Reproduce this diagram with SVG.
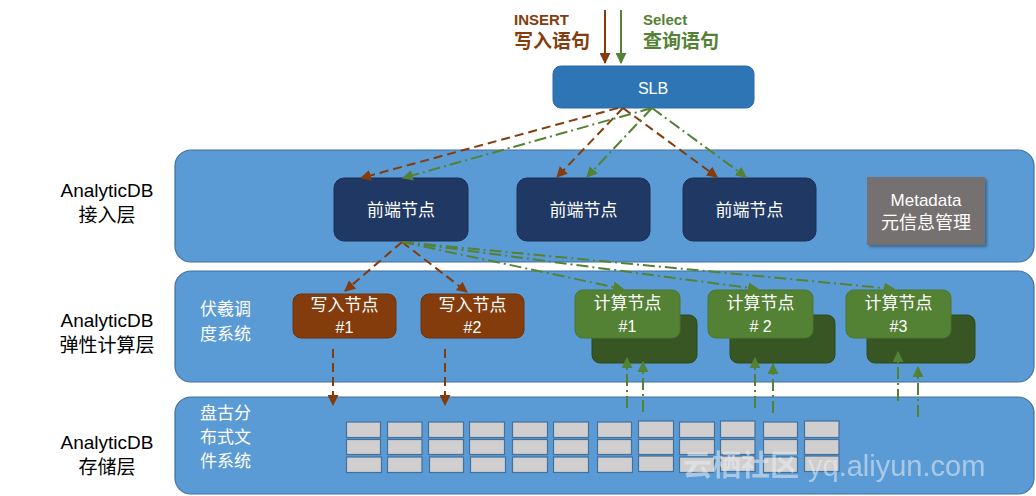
<svg xmlns="http://www.w3.org/2000/svg" width="1036" height="496" viewBox="0 0 1036 496">
<defs>
<style>
.layer{fill:#5b9bd5;stroke:#41719c;stroke-width:1.2}
.front{fill:#203864;stroke:#1b2f55;stroke-width:1}
.write{fill:#843c0c;stroke:#6e320a;stroke-width:1}
.compF{fill:#548235;stroke:#4a7530;stroke-width:1}
.compB{fill:#375623;stroke:#2e4a1d;stroke-width:1}
.cell{fill:#d0cece;stroke:#41719c;stroke-width:1.2}
.cjk{font-family:"Noto Sans CJK SC","Liberation Sans",sans-serif}
.lat{font-family:"Liberation Sans","Noto Sans CJK SC",sans-serif}
.wt{fill:#ffffff;text-anchor:middle}
.lbl{fill:#000000;text-anchor:middle;font-size:19px}
.sub{fill:#ffffff;font-size:17px}
.br{stroke:#843c0c;stroke-width:2;fill:none}
.gr{stroke:#548235;stroke-width:2;fill:none}
.dash{stroke-dasharray:9 5}
.dd{stroke-dasharray:12 4 2 4}
</style>
<marker id="ab" viewBox="0 0 10 10" refX="9" refY="5" markerWidth="5.5" markerHeight="5.5" orient="auto" markerUnits="strokeWidth">
<path d="M0,0 L10,5 L0,10 z" fill="#843c0c"/>
</marker>
<marker id="ag" viewBox="0 0 10 10" refX="9" refY="5" markerWidth="5.5" markerHeight="5.5" orient="auto" markerUnits="strokeWidth">
<path d="M0,0 L10,5 L0,10 z" fill="#548235"/>
</marker>
<filter id="sh" x="-10%" y="-10%" width="130%" height="130%">
<feDropShadow dx="2" dy="2" stdDeviation="1.5" flood-color="#000" flood-opacity="0.35"/>
</filter>
</defs>

<g id="layer-access">
<rect class="layer" x="175" y="150" width="859" height="112" rx="16"/>
<text class="lat lbl" x="107" y="197">AnalyticDB</text>
<text class="cjk lbl" x="107" y="222">接入层</text>
</g>
<g id="layer-compute">
<rect class="layer" x="175" y="271" width="859" height="111" rx="16"/>
<text class="lat lbl" x="107" y="327">AnalyticDB</text>
<text class="cjk lbl" x="107" y="352">弹性计算层</text>
<text class="cjk sub" x="200" y="315">伏羲调</text>
<text class="cjk sub" x="200" y="340">度系统</text>
</g>
<g id="layer-storage">
<rect class="layer" x="175" y="397" width="859" height="97" rx="16"/>
<text class="lat lbl" x="107" y="449">AnalyticDB</text>
<text class="cjk lbl" x="107" y="474">存储层</text>
<text class="cjk sub" x="200" y="419">盘古分</text>
<text class="cjk sub" x="200" y="443">布式文</text>
<text class="cjk sub" x="200" y="467">件系统</text>
</g>

<g id="storage-grid">
<rect class="cell" x="346.5" y="422" width="34" height="15.5"/>
<rect class="cell" x="387.5" y="422" width="34.5" height="15.5"/>
<rect class="cell" x="428.5" y="422" width="35" height="15.5"/>
<rect class="cell" x="469.5" y="422" width="35" height="15.5"/>
<rect class="cell" x="512.5" y="422" width="35" height="15.5"/>
<rect class="cell" x="553.5" y="422" width="35" height="15.5"/>
<rect class="cell" x="597.5" y="422" width="34" height="15.5"/>
<rect class="cell" x="638.5" y="421" width="35" height="16.5"/>
<rect class="cell" x="679.5" y="422" width="35" height="15.5"/>
<rect class="cell" x="720.5" y="421" width="34.5" height="16.5"/>
<rect class="cell" x="763.5" y="422" width="34" height="15.5"/>
<rect class="cell" x="804.5" y="421" width="34.5" height="16.5"/>
<rect class="cell" x="346.5" y="439.5" width="34" height="15"/>
<rect class="cell" x="387.5" y="439.5" width="34.5" height="15"/>
<rect class="cell" x="428.5" y="439.5" width="35" height="15"/>
<rect class="cell" x="469.5" y="439.5" width="35" height="15"/>
<rect class="cell" x="512.5" y="439.5" width="35" height="15"/>
<rect class="cell" x="553.5" y="439.5" width="35" height="15"/>
<rect class="cell" x="597.5" y="439.5" width="34" height="15"/>
<rect class="cell" x="638.5" y="439.5" width="35" height="15"/>
<rect class="cell" x="679.5" y="439.5" width="35" height="15"/>
<rect class="cell" x="720.5" y="439.5" width="34.5" height="15"/>
<rect class="cell" x="763.5" y="439.5" width="34" height="15"/>
<rect class="cell" x="804.5" y="439.5" width="34.5" height="15"/>
<rect class="cell" x="346.5" y="457" width="35" height="15.5"/>
<rect class="cell" x="387.5" y="457" width="34.5" height="15.5"/>
<rect class="cell" x="429.5" y="457" width="34" height="15.5"/>
<rect class="cell" x="470.5" y="457" width="35" height="15.5"/>
<rect class="cell" x="512.5" y="457" width="35" height="15.5"/>
<rect class="cell" x="553.5" y="457" width="35" height="15.5"/>
<rect class="cell" x="597.5" y="457" width="35" height="15.5"/>
<rect class="cell" x="638.5" y="456" width="35" height="15.5"/>
<rect class="cell" x="679.5" y="457" width="35" height="15.5"/>
<rect class="cell" x="720.5" y="456" width="34.5" height="15.5"/>
<rect class="cell" x="763.5" y="457" width="34" height="15.5"/>
<rect class="cell" x="804.5" y="456" width="34.5" height="15.5"/>
</g>

<g id="slb">
<rect x="553" y="66" width="201" height="42" rx="8" fill="#2e75b6" stroke="#2a6aa6" stroke-width="1"/>
<text class="lat wt" x="653" y="94" font-size="16">SLB</text>
</g>

<g id="input-labels">
<text class="lat" x="514" y="25" font-size="15" font-weight="bold" fill="#843c0c">INSERT</text>
<text class="cjk" x="514" y="48" font-size="19" font-weight="bold" fill="#843c0c">写入语句</text>
<text class="lat" x="643" y="25" font-size="15" font-weight="bold" fill="#548235">Select</text>
<text class="cjk" x="643" y="48" font-size="19" font-weight="bold" fill="#548235">查询语句</text>
</g>

<g id="front1">
<rect class="front" x="334" y="178" width="134" height="63" rx="10"/>
<text class="cjk wt" x="401" y="216" font-size="17">前端节点</text>
</g>
<g id="front2">
<rect class="front" x="517" y="178" width="133" height="63" rx="10"/>
<text class="cjk wt" x="583.5" y="216" font-size="17">前端节点</text>
</g>
<g id="front3">
<rect class="front" x="683" y="178" width="133" height="63" rx="10"/>
<text class="cjk wt" x="749.5" y="216" font-size="17">前端节点</text>
</g>
<g id="metadata">
<rect x="867" y="177" width="118" height="68" fill="#767171" filter="url(#sh)"/>
<text class="lat wt" x="926" y="206" font-size="17">Metadata</text>
<text class="cjk wt" x="926" y="229" font-size="18">元信息管理</text>
</g>

<g id="write1">
<rect class="write" x="293" y="294" width="103" height="44" rx="8"/>
<text class="cjk wt" x="344.5" y="311" font-size="17">写入节点</text>
<text class="lat wt" x="344.5" y="333" font-size="16">#1</text>
</g>
<g id="write2">
<rect class="write" x="421" y="294" width="103" height="44" rx="8"/>
<text class="cjk wt" x="472.5" y="311" font-size="17">写入节点</text>
<text class="lat wt" x="472.5" y="333" font-size="16">#2</text>
</g>
<g id="compute1">
<rect class="compB" x="592" y="315" width="105" height="48" rx="8"/>
<rect class="compF" x="575" y="290" width="105" height="48" rx="8"/>
<text class="cjk wt" x="627.5" y="309" font-size="17">计算节点</text>
<text class="lat wt" x="627.5" y="332" font-size="16">#1</text>
</g>
<g id="compute2">
<rect class="compB" x="730" y="315" width="105" height="48" rx="8"/>
<rect class="compF" x="708" y="290" width="105" height="48" rx="8"/>
<text class="cjk wt" x="760.5" y="309" font-size="17">计算节点</text>
<text class="lat wt" x="760.5" y="332" font-size="16"># 2</text>
</g>
<g id="compute3">
<rect class="compB" x="867" y="315" width="108" height="48" rx="8"/>
<rect class="compF" x="846" y="290" width="105" height="48" rx="8"/>
<text class="cjk wt" x="898.5" y="309" font-size="17">计算节点</text>
<text class="lat wt" x="898.5" y="332" font-size="16">#3</text>
</g>

<g id="connectors">
<line class="br" x1="605" y1="10" x2="605" y2="63" marker-end="url(#ab)"/>
<line class="gr" x1="621" y1="10" x2="621" y2="63" marker-end="url(#ag)"/>
<line class="br dash" x1="618" y1="108" x2="361" y2="178" marker-end="url(#ab)"/>
<line class="br dash" x1="623" y1="108" x2="557" y2="177" marker-end="url(#ab)"/>
<line class="br dash" x1="623" y1="108" x2="717" y2="177" marker-end="url(#ab)"/>
<line class="gr dd" x1="652" y1="108" x2="403" y2="178" marker-end="url(#ag)"/>
<line class="gr dd" x1="652" y1="108" x2="587" y2="177" marker-end="url(#ag)"/>
<line class="gr dd" x1="652" y1="108" x2="746" y2="177" marker-end="url(#ag)"/>
<line class="br dash" x1="402" y1="242" x2="345" y2="291" marker-end="url(#ab)"/>
<line class="br dash" x1="402" y1="242" x2="467" y2="292" marker-end="url(#ab)"/>
<line class="gr dd" x1="402" y1="242" x2="623" y2="289" marker-end="url(#ag)"/>
<line class="gr dd" x1="402" y1="242" x2="758" y2="289" marker-end="url(#ag)"/>
<line class="gr dd" x1="402" y1="242" x2="894" y2="289" marker-end="url(#ag)"/>
<line class="br dash" x1="333" y1="349" x2="333" y2="405" marker-end="url(#ab)"/>
<line class="br dash" x1="445" y1="349" x2="445" y2="405" marker-end="url(#ab)"/>
<line class="gr dd" x1="627" y1="408" x2="627" y2="358" marker-end="url(#ag)"/>
<line class="gr dd" x1="643" y1="412" x2="643" y2="362" marker-end="url(#ag)"/>
<line class="gr dd" x1="755" y1="408" x2="755" y2="358" marker-end="url(#ag)"/>
<line class="gr dd" x1="773" y1="413" x2="773" y2="364" marker-end="url(#ag)"/>
<line class="gr dd" x1="898" y1="401" x2="898" y2="352" marker-end="url(#ag)"/>
<line class="gr dd" x1="918" y1="417" x2="918" y2="367" marker-end="url(#ag)"/>
</g>

<g id="watermark" opacity="0.55">
<text class="cjk" x="683" y="476" font-size="29" font-weight="bold" fill="#e8eef5">云栖社区</text>
<text class="lat" x="808" y="476" font-size="29" fill="#e8eef5">yq.aliyun.com</text>
</g>
</svg>
